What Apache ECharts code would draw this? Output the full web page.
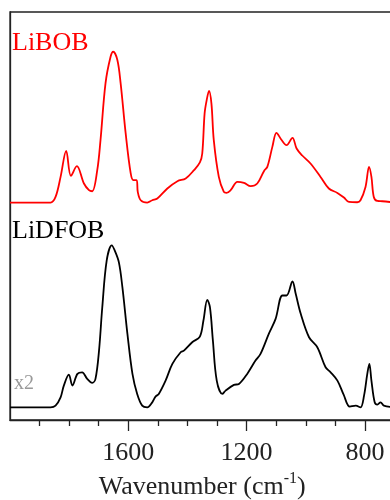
<!DOCTYPE html>
<html><head><meta charset="utf-8">
<script src="https://cdn.jsdelivr.net/npm/echarts@6/dist/echarts.min.js"></script>
<style>html,body{margin:0;padding:0;background:#fff}#c{width:390px;height:500px}</style>
</head><body><div id="c"></div>
<script>
// Wavenumbers (cm^-1) and intensities relative to each spectrum's baseline
const libobWave = [2000,1863,1846,1829,1810,1794,1774,1750,1733,1722,1705,1694,1677,1660,1651,1637,1626,1609,1592,1583,1572,1568,1558,1536,1519,1502,1468,1434,1406,1378,1358,1350,1342,1335,1327,1319,1311,1294,1277,1268,1254,1231,1209,1186,1164,1141,1130,1113,1099,1083,1065,1045,1031,1012,984,950,922,893,871,854,826,815,798,786,778,770,758,741,700];
const libobVal  = [0,0,1.37,6.28,12.66,6.53,8.91,4.66,3.02,2.77,7.93,15.29,29.28,35.73,36.96,34.92,29.28,17.0,7.19,5.47,5.47,2.6,0.56,0,0.56,0.98,3.44,5.23,5.89,7.93,9.82,12.02,21.84,25.1,27.39,24.29,15.29,6.28,2.6,2.36,3.02,5.06,4.81,4.0,4.66,7.75,8.74,13.64,17.08,15.46,14.06,15.85,13.25,11.53,9.57,6.28,3.44,2.36,1.23,0.15,0.07,0.56,3.83,8.74,6.28,1.37,0.39,0.32,0];

const lidfobWave = [2000,1863,1846,1829,1818,1801,1789,1772,1756,1739,1722,1711,1699,1688,1673,1656,1646,1632,1620,1603,1586,1570,1553,1536,1519,1508,1497,1474,1451,1423,1412,1384,1358,1346,1333,1324,1314,1301,1282,1271,1243,1226,1198,1170,1153,1125,1102,1079,1065,1045,1034,1017,989,961,933,916,893,872,851,831,815,803,792,785,778,767,758,747,736,700];
const lidfobVal  = [0,0,0.42,2.45,5.33,8.02,5.33,8.2,8.59,6.97,5.99,6.97,13.91,24.54,36.0,39.68,38.45,35.58,29.45,18.01,8.2,3.29,0.42,0,1.23,2.63,3.29,6.55,10.65,13.5,13.91,15.95,17.35,21.28,26.36,24.54,16.37,6.55,3.29,4.1,5.5,5.74,8.2,11.46,13.1,18.01,21.69,27.41,27.41,30.85,27.83,22.92,17.18,14.72,9.82,8.59,6.55,3.12,0.17,0.42,0,2.87,8.2,10.65,6.55,1.23,0.66,1.23,0.42,0];

const libobOffset = 53.3;
const lidfobOffset = 3.1;
const majorTicks = [800,1200,1600];
const minorTicks = [900,1000,1100,1300,1400,1500,1700,1800,1900];

const libobData = libobWave.map((w,i)=>[w, libobVal[i] + libobOffset]);
const lidfobData = lidfobWave.map((w,i)=>[w, lidfobVal[i] + lidfobOffset]);

const font = 'Liberation Serif, Times New Roman, serif';
const chart = echarts.init(document.getElementById('c'), null, {renderer:'canvas'});
chart.setOption({
  animation:false,
  backgroundColor:'#fff',
  grid:{left:10, right:-4.5, top:12, bottom:80, containLabel:false, outerBoundsMode:'none', show:true, borderColor:'#222', borderWidth:1.3, backgroundColor:'transparent'},
  xAxis:[{
    type:'value', min:700, max:2000, inverse:true, position:'bottom',
    axisLine:{show:true, lineStyle:{color:'#222', width:1.3}},
    axisTick:{show:true, inside:false, length:11, customValues:majorTicks, lineStyle:{color:'#222', width:1.3}},
    axisLabel:{show:true, customValues:majorTicks, margin:20, color:'#222', fontFamily:font, fontSize:26, formatter:(v)=>String(v)},
    splitLine:{show:false},
    name:'Wavenumber (cm{sup|-1})',
    nameLocation:'middle', nameGap:47,
    nameTextStyle:{color:'#222', fontFamily:font, fontSize:26, rich:{sup:{fontFamily:font, fontSize:16, color:'#222', verticalAlign:'bottom', padding:[0,0,16,0]}}}
  },{
    type:'value', min:700, max:2000, inverse:true, position:'bottom',
    axisLine:{show:false},
    axisTick:{show:true, inside:false, length:6, customValues:minorTicks, lineStyle:{color:'#222', width:1.3}},
    axisLabel:{show:false},
    splitLine:{show:false}
  }],
  yAxis:{type:'value', min:0, max:100, show:true, axisLine:{show:true, lineStyle:{color:'#222', width:1.3}}, axisTick:{show:false}, axisLabel:{show:false}, splitLine:{show:false}},
  series:[
    {type:'line', name:'LiBOB', data:libobData, showSymbol:false, smooth:0.35, lineStyle:{color:'#ff0000', width:1.8}, z:3},
    {type:'line', name:'LiDFOB', data:lidfobData, showSymbol:false, smooth:0.35, lineStyle:{color:'#000', width:1.8}, z:3}
  ],
  graphic:[
    {type:'text', left:12, top:30, style:{text:'LiBOB', fill:'#ff0000', font:'26px ' + font}},
    {type:'text', left:12, top:218, style:{text:'LiDFOB', fill:'#000', font:'26px ' + font}},
    {type:'text', left:14, top:374, style:{text:'x2', fill:'#999', font:'20px ' + font}}
  ]
});
</script></body></html>
